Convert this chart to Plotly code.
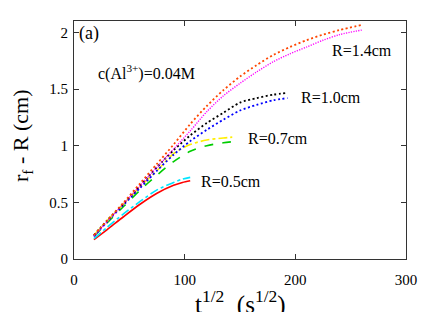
import plotly.graph_objects as go

# t^(1/2) sample positions and r_f - R values
x_05 = [18, 30, 45, 60, 75, 90, 98, 105]
y_05_red = [0.17, 0.26, 0.375, 0.485, 0.58, 0.65, 0.675, 0.69]
y_05_cyan = [0.18, 0.28, 0.40, 0.51, 0.61, 0.675, 0.705, 0.72]

x_07 = [18, 30, 45, 60, 75, 90, 105, 120, 135, 143]
y_07_green = [0.20, 0.32, 0.465, 0.61, 0.74, 0.86, 0.95, 1.00, 1.025, 1.035]
y_07_yellow = [0.21, 0.34, 0.49, 0.64, 0.78, 0.93, 1.01, 1.05, 1.068, 1.075]

x_10 = [18, 30, 45, 60, 75, 90, 105, 120, 135, 150, 165, 180, 193]
y_10_blue = [0.20, 0.33, 0.48, 0.63, 0.78, 0.92, 1.04, 1.14, 1.23, 1.31, 1.36, 1.40, 1.42]
y_10_black = [0.21, 0.34, 0.49, 0.65, 0.81, 0.96, 1.09, 1.20, 1.29, 1.38, 1.42, 1.45, 1.465]

x_14 = [18, 30, 45, 60, 75, 90, 105, 120, 135, 150, 165, 180, 195, 210, 225, 240, 260]
y_14_magenta = [0.20, 0.33, 0.49, 0.65, 0.81, 0.97, 1.13, 1.30, 1.44, 1.55, 1.65, 1.74, 1.81, 1.87, 1.93, 1.98, 2.02]
y_14_orange = [0.21, 0.34, 0.50, 0.67, 0.84, 1.01, 1.19, 1.35, 1.49, 1.61, 1.71, 1.80, 1.87, 1.93, 1.98, 2.02, 2.065]

x_ticks = [0, 100, 200, 300]
y_ticks = [0, 0.5, 1, 1.5, 2]
y_tick_labels = ["0", "0.5", "1", "1.5", "2"]

series = [
    (x_05, y_05_red, "#ff0000", "solid", 1.6),
    (x_05, y_05_cyan, "#00e5ff", "dashdot", 1.6),
    (x_07, y_07_green, "#00cc00", "dash", 1.6),
    (x_07, y_07_yellow, "#ffee00", "dashdot", 1.6),
    (x_10, y_10_blue, "#0000ff", "2px,2.5px", 1.8),
    (x_10, y_10_black, "#000000", "2px,2.5px", 1.8),
    (x_14, y_14_magenta, "#ff00ff", "1.2px,1.3px", 1.4),
    (x_14, y_14_orange, "#ff4500", "2px,2.5px", 1.8),
]

FONT = "Liberation Serif, Times New Roman, serif"

fig = go.Figure()
for xs, ys, col, dash, w in series:
    fig.add_trace(go.Scatter(x=xs, y=ys, mode="lines", line=dict(color=col, dash=dash, width=w, shape="spline", smoothing=0.8),
                             showlegend=False, hoverinfo="skip"))

labels = [
    ("R=1.4cm", 330, 50),
    ("R=1.0cm", 299, 97),
    ("R=0.7cm", 246, 138),
    ("R=0.5cm", 199, 181),
]
L, R_, T, B = 74, 406, 21, 259
W, H = R_ - L, B - T

def px2paper(px, py):
    return (px - L) / W, (B - py) / H

ann = []
for txt, px, py in labels:
    ax_, ay_ = px2paper(px, py)
    ann.append(dict(text=txt, x=ax_, y=ay_, xref="paper", yref="paper", xanchor="left", yanchor="middle",
                    showarrow=False, font=dict(family=FONT, size=16, color="black")))
ax_, ay_ = px2paper(77, 33)
ann.append(dict(text="(a)", x=ax_, y=ay_, xref="paper", yref="paper", xanchor="left", yanchor="middle",
                showarrow=False, font=dict(family=FONT, size=18, color="black")))
ax_, ay_ = px2paper(96, 72)
ann.append(dict(text="c(Al<sup>3+</sup>)=0.04M", x=ax_, y=ay_, xref="paper", yref="paper", xanchor="left",
                yanchor="middle", showarrow=False, font=dict(family=FONT, size=16, color="black")))
ax_, ay_ = px2paper(240, 284)
ann.append(dict(text="t<sup>1/2</sup>&nbsp;&nbsp;(s<sup>1/2</sup>)", x=ax_, y=ay_, xref="paper", yref="paper",
                xanchor="center", yanchor="top", showarrow=False, font=dict(family=FONT, size=25, color="black")))
ax_, ay_ = px2paper(22, 136)
ann.append(dict(text="r<sub>f</sub> - R (cm)", x=ax_, y=ay_, xref="paper", yref="paper",
                xanchor="center", yanchor="middle", textangle=-90, showarrow=False,
                font=dict(family=FONT, size=22, color="black")))

axis_common = dict(showline=True, linecolor="#333333", linewidth=1, mirror="ticks", ticks="inside", ticklen=5,
                   tickcolor="#333333", showgrid=False, zeroline=False,
                   tickfont=dict(family=FONT, size=15, color="black"))

fig.update_layout(
    width=436, height=312,
    margin=dict(l=L, r=436 - R_, t=T, b=312 - B),
    paper_bgcolor="white", plot_bgcolor="white",
    xaxis=dict(range=[0, 300], tickvals=x_ticks, ticklabelstandoff=7, **axis_common),
    yaxis=dict(range=[0, 2.1], tickvals=y_ticks, ticktext=y_tick_labels, ticklabelstandoff=2, **axis_common),
    annotations=ann,
)
fig.write_html("out.html", config={"displayModeBar": False},
               post_script="document.body.style.margin='0';document.body.style.overflow='hidden';")
